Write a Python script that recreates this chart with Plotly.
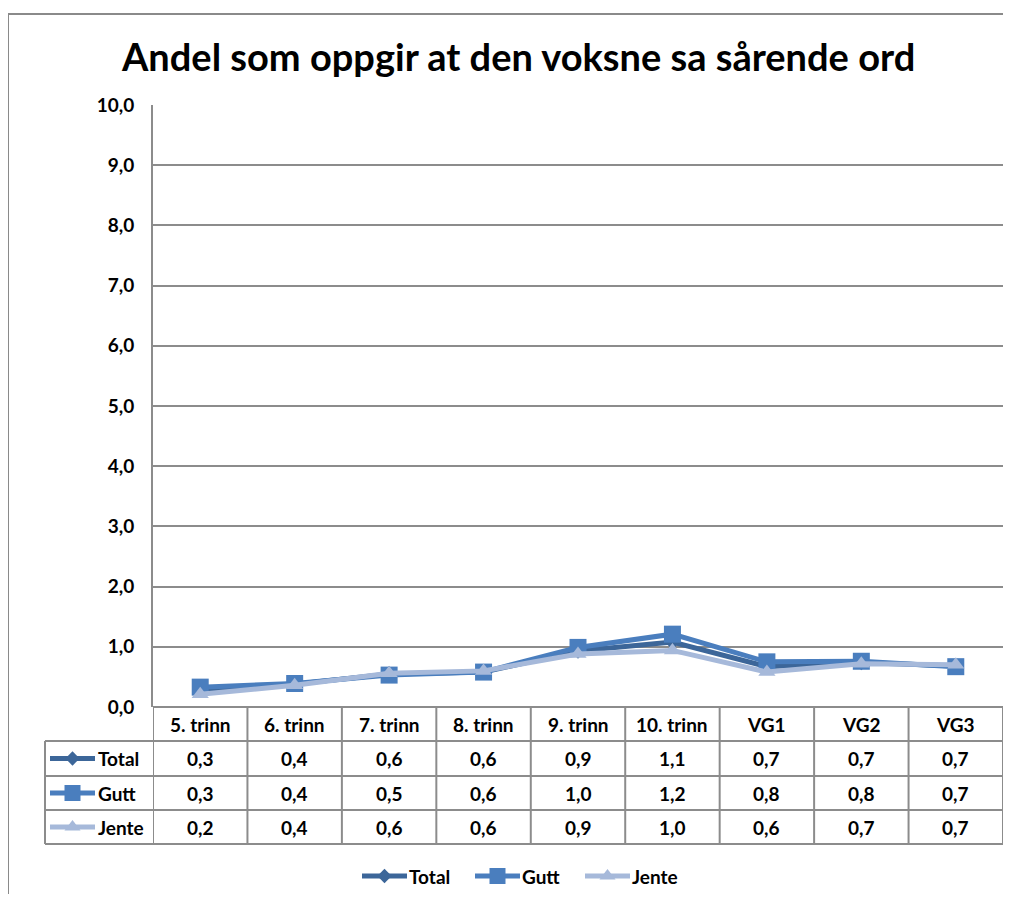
import plotly.graph_objects as go

# ---- data ----
categories = ["5. trinn", "6. trinn", "7. trinn", "8. trinn", "9. trinn",
              "10. trinn", "VG1", "VG2", "VG3"]
total = [0.28, 0.38, 0.55, 0.58, 0.93, 1.08, 0.67, 0.74, 0.68]
gutt = [0.33, 0.39, 0.53, 0.58, 0.99, 1.21, 0.75, 0.76, 0.67]
jente = [0.21, 0.36, 0.56, 0.60, 0.88, 0.94, 0.58, 0.72, 0.70]
total_table = ["0,3", "0,4", "0,6", "0,6", "0,9", "1,1", "0,7", "0,7", "0,7"]
gutt_table = ["0,3", "0,4", "0,5", "0,6", "1,0", "1,2", "0,8", "0,8", "0,7"]
jente_table = ["0,2", "0,4", "0,6", "0,6", "0,9", "1,0", "0,6", "0,7", "0,7"]
series_names = ["Total", "Gutt", "Jente"]
title_text = "Andel som oppgir at den voksne sa sårende ord"

# ---- styling / layout (positions given in window pixels) ----
OFF = 8                      # body margin of the page
W, H = 1011 - 2 * OFF, 902 - 2 * OFF
FONT = "Lato, 'Open Sans', sans-serif"
GRID = "#8c8c8c"
colors = {"Total": "#3C6699", "Gutt": "#4A7EBE", "Jente": "#A6B9DA"}
symbols = {"Total": "diamond", "Gutt": "square", "Jente": "triangle-up"}
msizes = {"Total": 12, "Gutt": 17, "Jente": 15}

PL, PR, PT, PB = 153, 1003, 105, 707   # plot area in window pixels
ROWS = [707, 741, 776, 810, 844]       # table row boundaries
TL = 45                                 # table left edge
LEG_Y = 876
LEG_X = {"Total": 362, "Gutt": 475, "Jente": 585}   # start of each legend key
KEY_LEN = 45


def px(x):
    return (x - OFF) / W


def py(y):
    return 1 - (y - OFF) / H


fig = go.Figure()

data = {"Total": total, "Gutt": gutt, "Jente": jente}
for name in series_names:
    fig.add_trace(go.Scatter(
        x=categories, y=data[name], name=name, mode="lines+markers",
        line=dict(color=colors[name], width=5),
        marker=dict(symbol=symbols[name], size=msizes[name], color=colors[name]),
        showlegend=False,
    ))

annotations = []
tfont = dict(family=FONT, size=19, color="#000000", weight="bold")


def add_key(name, x0, yc, text_x):
    fig.add_trace(go.Scatter(
        x=[x0, x0 + KEY_LEN], y=[yc, yc], mode="lines", xaxis="x2", yaxis="y2",
        line=dict(color=colors[name], width=5), showlegend=False, hoverinfo="skip"))
    fig.add_trace(go.Scatter(
        x=[x0 + KEY_LEN / 2], y=[yc], mode="markers", xaxis="x2", yaxis="y2",
        marker=dict(symbol=symbols[name], size=msizes[name] - 1, color=colors[name]),
        showlegend=False, hoverinfo="skip"))
    annotations.append(dict(x=px(text_x), xref="paper", y=py(yc), yref="paper",
                            text=name, showarrow=False, font=tfont,
                            xanchor="left", yanchor="middle"))


# legend keys inside the table
for i, name in enumerate(series_names):
    yc = (ROWS[i + 1] + ROWS[i + 2]) / 2
    add_key(name, 50, yc, 96)

# bottom legend
for name in series_names:
    add_key(name, LEG_X[name], LEG_Y, LEG_X[name] + KEY_LEN)

shapes = []
# outer chart border
shapes.append(dict(type="rect", xref="paper", yref="paper",
                   x0=px(8), x1=px(1030), y0=py(14), y1=py(930),
                   line=dict(color="#8a8a8a", width=2)))
# table horizontal lines
for k, y in enumerate(ROWS):
    x0 = PL if k == 0 else TL
    shapes.append(dict(type="line", xref="paper", yref="paper",
                       x0=px(x0), x1=px(PR), y0=py(y), y1=py(y),
                       line=dict(color=GRID, width=2)))
# left edge of table
shapes.append(dict(type="line", xref="paper", yref="paper",
                   x0=px(TL), x1=px(TL), y0=py(ROWS[1]), y1=py(ROWS[-1]),
                   line=dict(color=GRID, width=2)))
# column separators using the category scale
for i in range(len(categories) + 1):
    shapes.append(dict(type="line", xref="x", yref="paper",
                       x0=i - 0.5, x1=i - 0.5, y0=py(ROWS[0]), y1=py(ROWS[-1]),
                       line=dict(color=GRID, width=2)))

for i, c in enumerate(categories):
    annotations.append(dict(x=c, xref="x", y=py((ROWS[0] + ROWS[1]) / 2), yref="paper",
                            text=c, showarrow=False, font=tfont,
                            xanchor="center", yanchor="middle"))
    for r, vals in enumerate([total_table, gutt_table, jente_table]):
        annotations.append(dict(x=c, xref="x",
                                y=py((ROWS[r + 1] + ROWS[r + 2]) / 2), yref="paper",
                                text=vals[i], showarrow=False, font=tfont,
                                xanchor="center", yanchor="middle"))
# title
annotations.append(dict(x=px(518), xref="paper", y=py(56), yref="paper",
                        text=title_text, showarrow=False,
                        font=dict(family=FONT, size=38, color="#000000", weight="bold"),
                        xanchor="center", yanchor="middle"))

fig.update_layout(
    width=W, height=H,
    margin=dict(l=0, r=0, t=0, b=0, autoexpand=False),
    paper_bgcolor="white", plot_bgcolor="rgba(0,0,0,0)",
    separators=", ",
    showlegend=False,
    xaxis=dict(domain=[px(PL), px(PR)], range=[-0.5, len(categories) - 0.5],
               type="category", showticklabels=False, showgrid=False, zeroline=False,
               showline=False, ticks=""),
    yaxis=dict(domain=[py(PB), py(PT)], range=[0, 10], dtick=1, tickformat=".1f",
               showgrid=True, gridcolor=GRID, gridwidth=2, zeroline=False,
               showline=True, linecolor=GRID, linewidth=2, ticks="",
               ticklabelstandoff=13,
               tickfont=dict(family=FONT, size=19, color="#000000", weight="bold")),
    xaxis2=dict(domain=[0, 1], range=[OFF, OFF + W], visible=False, anchor="y2",
                fixedrange=True),
    yaxis2=dict(domain=[0, 1], range=[OFF + H, OFF], visible=False, anchor="x2",
                fixedrange=True),
    shapes=shapes,
    annotations=annotations,
)

fig.write_html("out.html")
